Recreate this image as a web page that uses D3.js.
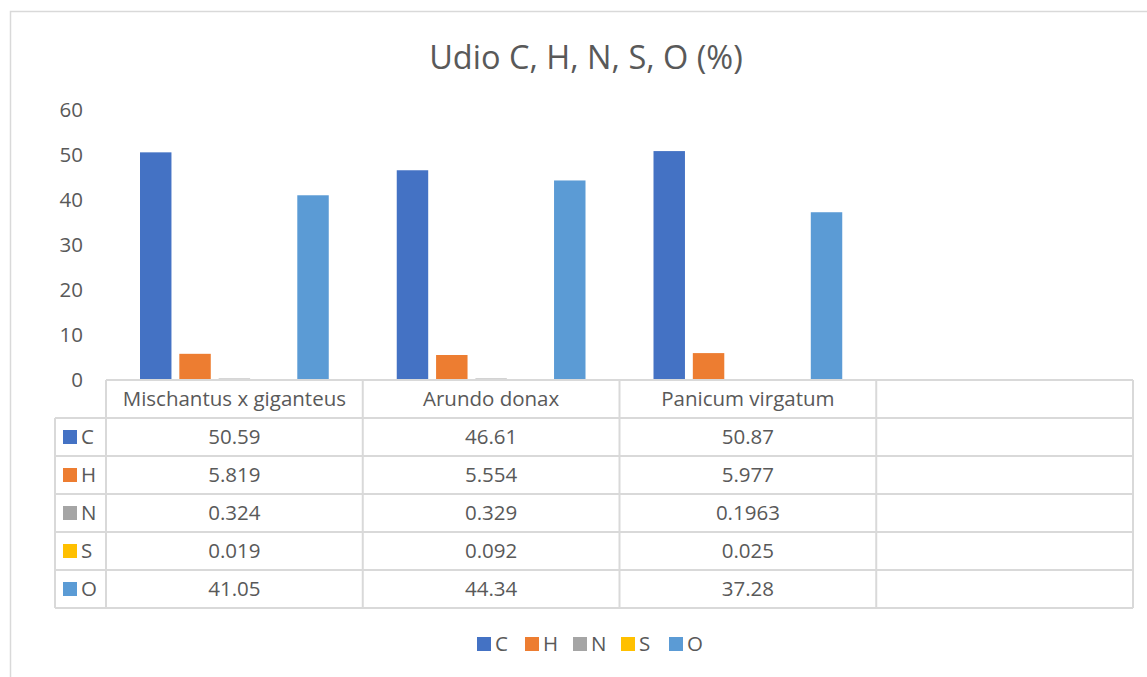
<html>
<head>
    <style>
        body { margin: 0; background-color: #ffffff; font-family: "Open Sans", "Noto Sans", sans-serif; }
        svg { display: block; }
        text { fill: #595959; }
    </style>
    <script src="https://cdn.jsdelivr.net/npm/d3@7"></script>
</head>
<body>
<svg id="Chart"></svg>
<script>
    // chart data
    let categories = ["Mischantus x giganteus", "Arundo donax", "Panicum virgatum", ""]
    let series = ["C", "H", "N", "S", "O"]
    let colors = ["#4472C4", "#ED7D31", "#A5A5A5", "#FFC000", "#5B9BD5"]
    let valuesC = ["50.59", "46.61", "50.87"]
    let valuesH = ["5.819", "5.554", "5.977"]
    let valuesN = ["0.324", "0.329", "0.1963"]
    let valuesS = ["0.019", "0.092", "0.025"]
    let valuesO = ["41.05", "44.34", "37.28"]
    let yTicks = [0, 10, 20, 30, 40, 50, 60]
    let title = "Udio C, H, N, S, O (%)"

    let table = [valuesC, valuesH, valuesN, valuesS, valuesO]

    let width = 1147, height = 677
    let fontSize = "20.5px"
    let svg = d3.select("#Chart").attr("width", width).attr("height", height)

    // outer chart border (runs off the picture on the right and bottom)
    svg.append("rect")
        .attr("x", 10.5).attr("y", 11.5)
        .attr("width", 1200).attr("height", 720)
        .attr("fill", "none").attr("stroke", "#d9d9d9").attr("stroke-width", 1.5)

    svg.append("text")
        .attr("x", 586).attr("y", 69)
        .attr("text-anchor", "middle")
        .style("font-size", "32.5px")
        .text(title)

    let plotLeft = 106, plotRight = 1133
    let y = d3.scaleLinear().domain([0, 60]).range([380, 110])
    let x0 = d3.scaleBand().domain(categories).range([plotLeft, plotRight])
    let x1 = d3.scaleBand().domain(series).range([34, x0.bandwidth() - 34]).paddingInner(0.2)

    // y axis labels
    svg.append("g").selectAll("text").data(yTicks)
        .enter().append("text")
        .attr("x", 83)
        .attr("y", d => y(d))
        .attr("dy", "0.36em")
        .attr("text-anchor", "end")
        .style("font-size", fontSize)
        .text(d => d)

    // bars
    let groups = svg.append("g").selectAll("g")
        .data(categories.slice(0, 3))
        .enter().append("g")
        .attr("transform", d => "translate(" + x0(d) + ",0)")

    groups.selectAll("rect")
        .data((d, i) => series.map((s, j) => ({ s: s, v: +table[j][i], c: colors[j] })))
        .enter().append("rect")
        .attr("x", d => x1(d.s))
        .attr("width", x1.bandwidth())
        .attr("y", d => y(d.v))
        .attr("height", d => y(0) - y(d.v))
        .attr("fill", d => d.c)

    // data table
    let rowH = 38
    let tableTop = 380
    let labelLeft = 55
    let lineColor = "#d9d9d9"
    let grid = svg.append("g").attr("stroke", lineColor).attr("stroke-width", 2)

    // header row lines
    grid.append("line").attr("x1", plotLeft).attr("x2", plotRight).attr("y1", tableTop).attr("y2", tableTop)
    for (let r = 1; r <= series.length + 1; r++) {
        grid.append("line")
            .attr("x1", labelLeft).attr("x2", plotRight)
            .attr("y1", tableTop + r * rowH).attr("y2", tableTop + r * rowH)
    }
    grid.append("line").attr("x1", labelLeft).attr("x2", labelLeft)
        .attr("y1", tableTop + rowH).attr("y2", tableTop + 6 * rowH)
    categories.forEach(c => {
        grid.append("line").attr("x1", x0(c)).attr("x2", x0(c))
            .attr("y1", tableTop).attr("y2", tableTop + 6 * rowH)
    })
    grid.append("line").attr("x1", plotRight).attr("x2", plotRight)
        .attr("y1", tableTop).attr("y2", tableTop + 6 * rowH)

    // category names
    svg.append("g").selectAll("text").data(categories)
        .enter().append("text")
        .attr("x", d => x0(d) + x0.bandwidth() / 2)
        .attr("y", tableTop + rowH / 2)
        .attr("dy", "0.36em")
        .attr("text-anchor", "middle")
        .style("font-size", fontSize)
        .text(d => d)

    // series rows
    series.forEach((s, j) => {
        let cy = tableTop + (j + 1.5) * rowH
        svg.append("rect")
            .attr("x", 63).attr("y", cy - 7)
            .attr("width", 14).attr("height", 14)
            .attr("fill", colors[j])
        svg.append("text")
            .attr("x", 81).attr("y", cy)
            .attr("dy", "0.36em")
            .style("font-size", fontSize)
            .text(s)
        table[j].forEach((v, i) => {
            svg.append("text")
                .attr("x", x0(categories[i]) + x0.bandwidth() / 2)
                .attr("y", cy)
                .attr("dy", "0.36em")
                .attr("text-anchor", "middle")
                .style("font-size", fontSize)
                .text(v)
        })
    })

    // legend
    let legendX = d3.scalePoint().domain(series).range([477, 669])
    let legend = svg.append("g").selectAll("g").data(series)
        .enter().append("g")
        .attr("transform", d => "translate(" + legendX(d) + ",644)")
    legend.append("rect")
        .attr("x", 0).attr("y", -7)
        .attr("width", 14).attr("height", 14)
        .attr("fill", (d, i) => colors[i])
    legend.append("text")
        .attr("x", 18).attr("dy", "0.36em")
        .style("font-size", fontSize)
        .text(d => d)
</script>
</body>
</html>
